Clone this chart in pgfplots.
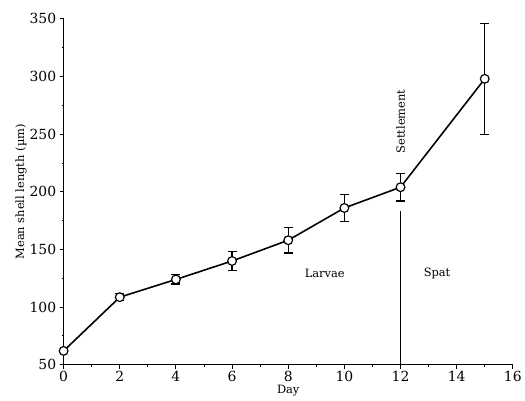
\documentclass[border=0pt]{standalone}
\usepackage{pgfplots}
\pgfplotsset{compat=1.18}
\usepackage{fontspec}
\setmainfont{DejaVu Serif}
\begin{document}
\begin{tikzpicture}
\begin{axis}[
    scale only axis,
    width=452pt, height=348pt,
    xmin=0, xmax=16, ymin=50, ymax=350,
    xtick={0,2,...,16}, ytick={50,100,...,350},
    minor x tick num=1, minor y tick num=1,
    axis x line*=bottom, axis y line*=left,
    axis line style={-, line width=1.2pt},
    tick align=outside,
    major tick length=4pt, minor tick length=2pt,
    tick style={black, line width=0.9pt},
    xlabel={Day}, ylabel={Mean shell length (µm)},
    xlabel style={yshift=3pt},
    ylabel style={yshift=-4pt},
    font=\fontsize{11.5}{13}\selectfont,
    ticklabel style={font=\fontsize{14}{16}\selectfont},
    xticklabel style={yshift=1pt},
    /pgf/number format/assume math mode=true,
    clip=false,
]
\addplot[black, line width=1.6pt, mark=*,
    mark options={fill=white, draw=black, scale=2.2, line width=1.2pt},
    error bars/.cd, y dir=both, y explicit,
    error bar style={line width=1.2pt}, error mark options={rotate=90, mark size=4.5pt, line width=1.2pt}]
    coordinates {
    (0,62) +- (0,0)
    (2,108.6) +- (0,3)
    (4,124) +- (0,4)
    (6,140) +- (0,8)
    (8,158) +- (0,11)
    (10,186) +- (0,12)
    (12,204) +- (0,12)
    (15,298) +- (0,48)
};
\addplot[black, line width=1.4pt, no marks] coordinates {(12,50) (12,183)};
\node[rotate=90] at (axis cs:12,261) {Settlement};
\node at (axis cs:9.3,129) {Larvae};
\node at (axis cs:13.3,129) {Spat};
\path (rel axis cs:0,0) ++(-64pt,-36pt);
\path (rel axis cs:1,1) ++(9pt,19pt);
\end{axis}
\end{tikzpicture}
\end{document}
